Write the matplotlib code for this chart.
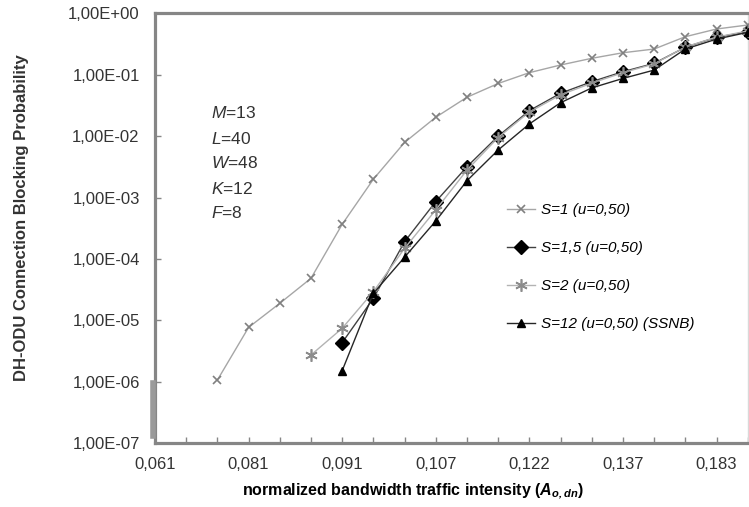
import matplotlib
matplotlib.use("Agg")
import matplotlib.pyplot as plt
from matplotlib.ticker import FixedLocator, FuncFormatter
from matplotlib.lines import Line2D
import numpy as np

plt.rcParams['font.family'] = ['Liberation Sans', 'DejaVu Sans']
plt.rcParams['mathtext.fontset'] = 'custom'
plt.rcParams['mathtext.rm'] = 'Liberation Sans'
plt.rcParams['mathtext.it'] = 'Liberation Sans:italic'
plt.rcParams['mathtext.bf'] = 'Liberation Sans:bold:italic'

# category axis (only every 3rd label is shown in the chart)
categories = ['0,061', '0,068', '0,075', '0,081', '0,084', '0,087', '0,091', '0,096',
              '0,101', '0,107', '0,112', '0,117', '0,122', '0,127', '0,132', '0,137',
              '0,152', '0,168', '0,183', '0,198']
shown_every = 3

s1 = [None, None, 1.07e-6, 7.7e-6, 1.9e-5, 4.85e-5, 3.67e-4, 1.99e-3, 7.9e-3, 2.03e-2,
      4.3e-2, 7.2e-2, 0.108, 0.144, 0.185, 0.228, 0.262, 0.416, 0.555, 0.645]
s15 = [None, None, None, None, None, None, 4.35e-6, 2.29e-5, 1.91e-4, 8.6e-4,
       3.18e-3, 1.0e-2, 2.6e-2, 4.99e-2, 7.7e-2, 0.112, 0.153, 0.28, 0.407, 0.50]
s2 = [None, None, None, None, None, 2.74e-6, 7.45e-6, 2.94e-5, 1.49e-4, 6.3e-4,
      2.8e-3, 9.5e-3, 2.47e-2, 4.7e-2, 7.3e-2, 0.108, 0.15, 0.283, 0.41, 0.515]
s12 = [None, None, None, None, None, None, 1.52e-6, 2.77e-5, 1.07e-4, 4.16e-4,
       1.88e-3, 5.95e-3, 1.58e-2, 3.5e-2, 6.1e-2, 8.7e-2, 0.119, 0.262, 0.38, 0.49]

labels = ['S=1 (u=0,50)', 'S=1,5 (u=0,50)', 'S=2 (u=0,50)', 'S=12 (u=0,50) (SSNB)']
params = [r'$\mathit{M}$=13', r'$\mathit{L}$=40', r'$\mathit{W}$=48',
          r'$\mathit{K}$=12', r'$\mathit{F}$=8']

W, H = 749, 507
fig = plt.figure(figsize=(W / 100, H / 100), dpi=100)
ax = fig.add_axes([155 / W, (H - 443.3) / H, (747.7 - 155) / W, (443.3 - 13.3) / H])

x = np.arange(len(categories))

def arr(v):
    return np.array([np.nan if a is None else a for a in v], dtype=float)

ax.plot(x, arr(s1), color='#a6a6a6', lw=1.0, marker='x', ms=6, mew=1.2,
        mec='#808080', label=labels[0], zorder=3)
ax.plot(x, arr(s15), color='#404040', lw=1.0, marker='D', ms=7, mfc='black',
        mec='black', label=labels[1], zorder=4)
ax.plot(x, arr(s2), color='#b3b3b3', lw=1.0, marker=(6, 2, 0), ms=9, mew=1.2,
        mec='#8c8c8c', label=labels[2], zorder=5)
ax.plot(x, arr(s12), color='#262626', lw=1.0, marker='^', ms=6, mfc='black',
        mec='black', label=labels[3], zorder=6)

ax.set_yscale('log')
ax.set_ylim(1e-7, 1)
ax.set_xlim(0, len(categories) - 1)

ax.yaxis.set_major_locator(FixedLocator([10.0 ** k for k in range(-7, 1)]))
ax.yaxis.set_minor_locator(FixedLocator([]))
ax.yaxis.set_major_formatter(FuncFormatter(
    lambda v, p: "1,00E{:+03d}".format(int(round(np.log10(v))))))

ax.set_xticks(x)
ax.set_xticklabels([c if i % shown_every == 0 else '' for i, c in enumerate(categories)])

ax.tick_params(axis='both', direction='in', length=4, width=1, color='#868686',
               labelsize=12, labelcolor='#333333')
ax.tick_params(axis='y', pad=11)
ax.tick_params(axis='x', pad=10)

for side in ['left', 'bottom', 'top']:
    ax.spines[side].set_color('#868686')
    ax.spines[side].set_linewidth(2.3)
ax.spines['right'].set_color('#d9d9d9')
ax.spines['right'].set_linewidth(1.0)

# artefact: thick segment on the left axis near the bottom
ax.add_line(Line2D([-0.004, -0.004], [0.018, 0.14], transform=ax.transAxes,
                   color='#9a9a9a', lw=4, clip_on=False, zorder=10))

leg = ax.legend(loc='upper left', bbox_to_anchor=(507 / W, (H - 203) / H),
                bbox_transform=fig.transFigure, frameon=False, borderpad=0,
                borderaxespad=0, handlelength=1.85, handletextpad=0.4,
                labelspacing=1.58, prop={'size': 11, 'style': 'italic'})

for i, t in enumerate(params):
    fig.text(211 / W, (H - (113.5 + 25 * i)) / H, t, fontsize=12.5, va='center',
             ha='left', color='#333333')

fig.text(413 / W, (H - 491) / H,
         r'normalized bandwidth traffic intensity ($\mathbf{A}_{\mathbf{o,dn}}$)',
         fontsize=11.5, fontweight='bold', ha='center', va='center')
fig.text(22 / W, (H - 218) / H, 'DH-ODU Connection Blocking Probability',
         fontsize=12, fontweight='bold', rotation=90, ha='center', va='center',
         color='#333333')

fig.savefig('out.png', dpi=100)
